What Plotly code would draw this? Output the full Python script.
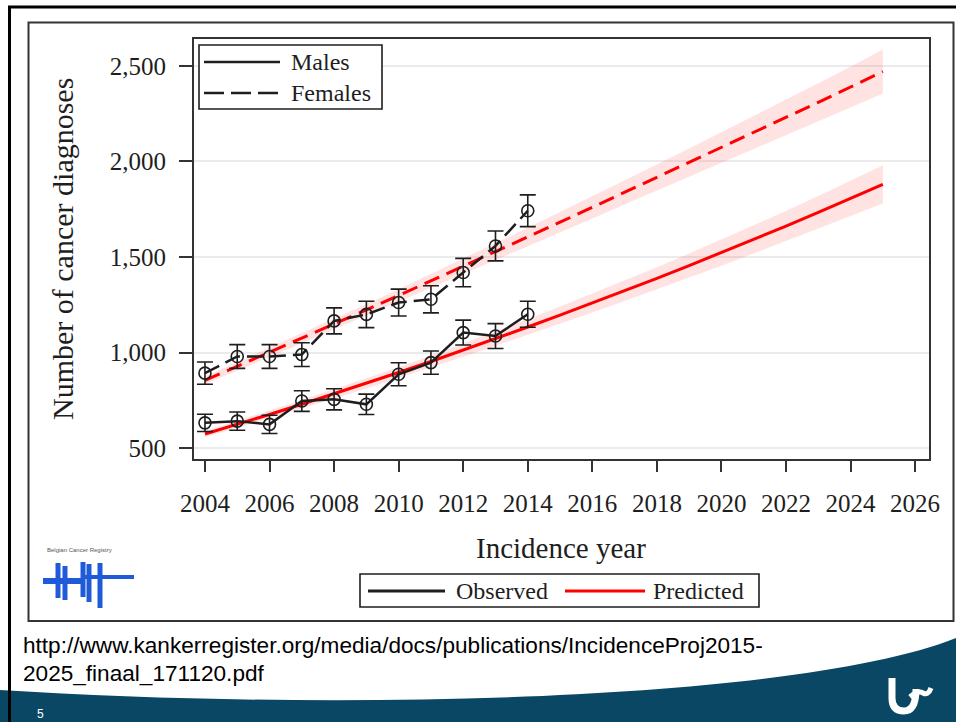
import plotly.graph_objects as go

# ---- data -------------------------------------------------------------
obs_years = list(range(2004, 2015))
males_obs = [633, 642, 625, 747, 756, 730, 887, 948, 1105, 1087, 1201]
males_err = [45, 48, 48, 54, 55, 53, 60, 61, 65, 65, 68]
females_obs = [893, 980, 980, 990, 1166, 1200, 1262, 1279, 1419, 1558, 1742]
females_err = [58, 62, 62, 62, 68, 69, 70, 71, 74, 78, 83]

pred_years = list(range(2004, 2026))
males_pred = [575, 625, 677, 730, 784, 839, 896, 954, 1013, 1073, 1134,
              1196, 1259, 1323, 1388, 1455, 1523, 1592, 1662, 1734, 1806, 1880]
males_hw = [16, 18, 20, 22, 24, 26, 28, 31, 34, 37, 41,
            45, 49, 53, 58, 63, 68, 73, 79, 85, 92, 100]
females_pred = [855, 928, 1001, 1075, 1149, 1224, 1299, 1375, 1451, 1528, 1605,
                1682, 1760, 1838, 1916, 1994, 2072, 2151, 2230, 2309, 2389, 2470]
females_hw = [20, 22, 24, 26, 28, 30, 33, 36, 40, 44, 48,
              53, 58, 63, 68, 74, 80, 86, 92, 99, 106, 115]

x_ticks = list(range(2004, 2027, 2))
y_ticks = [500, 1000, 1500, 2000, 2500]

W, H = 956, 722
SERIF = "Liberation Serif, Times New Roman, serif"
INK = "#1e1e1e"
RED = "#ff0000"
TEAL = "#0a4764"


def px(x):
    return x / W


def py(y):
    return 1 - y / H


def path(segments, close=False):
    """Build an SVG path in paper units; every segment carries its own command."""
    s = ""
    for cmd, pts in segments:
        s += cmd + " " + " ".join(f"{px(a):.5f},{py(b):.5f}" for a, b in pts) + " "
    return s + ("Z" if close else "")


fig = go.Figure()

# prediction intervals
for pred, hw in ((females_pred, females_hw), (males_pred, males_hw)):
    upper = [p + h for p, h in zip(pred, hw)]
    lower = [p - h for p, h in zip(pred, hw)]
    fig.add_trace(go.Scatter(
        x=pred_years + pred_years[::-1], y=upper + lower[::-1],
        fill="toself", fillcolor="rgba(255,60,60,0.15)",
        line=dict(width=0), mode="lines", hoverinfo="skip", showlegend=False))

# predicted lines
fig.add_trace(go.Scatter(x=pred_years, y=females_pred, mode="lines",
                         line=dict(color=RED, width=3, dash="16px,8px"),
                         showlegend=False))
fig.add_trace(go.Scatter(x=pred_years, y=males_pred, mode="lines",
                         line=dict(color=RED, width=3), showlegend=False))

# observed series with error bars
for vals, err, dash in ((females_obs, females_err, "16px,7px"),
                        (males_obs, males_err, "solid")):
    fig.add_trace(go.Scatter(
        x=obs_years, y=vals, mode="lines+markers",
        line=dict(color=INK, width=2.5, dash=dash),
        marker=dict(symbol="circle-open", size=12, color=INK,
                    line=dict(width=1.6, color=INK)),
        error_y=dict(type="data", array=err, color=INK, thickness=1.6, width=8),
        showlegend=False))

shapes = []
annotations = []

# slide footer band
shapes.append(dict(type="path", xref="paper", yref="paper", layer="below",
                   path=path([("M", [(0, 690)]),
                              ("C", [(350, 712), (800, 700), (956, 638)]),
                              ("L", [(956, 722)]), ("L", [(0, 722)])], close=True),
                   fillcolor=TEAL, line=dict(width=0)))

# slide frame and embedded figure frame
shapes.append(dict(type="line", xref="paper", yref="paper",
                   x0=px(9.5), x1=px(9.5), y0=py(6), y1=py(722),
                   line=dict(color="black", width=3)))
shapes.append(dict(type="line", xref="paper", yref="paper",
                   x0=px(8), x1=px(956), y0=py(7), y1=py(7),
                   line=dict(color="black", width=3)))
shapes.append(dict(type="rect", xref="paper", yref="paper",
                   x0=px(28.5), x1=px(953.5), y0=py(22.5), y1=py(621),
                   line=dict(color="#333333", width=2)))

# series legend (top left)
shapes.append(dict(type="rect", xref="paper", yref="paper",
                   x0=px(199), x1=px(382), y0=py(45), y1=py(109),
                   line=dict(color=INK, width=1.6), fillcolor="white"))
shapes.append(dict(type="line", xref="paper", yref="paper",
                   x0=px(204), x1=px(280), y0=py(62), y1=py(62),
                   line=dict(color=INK, width=2.5)))
shapes.append(dict(type="line", xref="paper", yref="paper",
                   x0=px(204), x1=px(280), y0=py(93), y1=py(93),
                   line=dict(color=INK, width=2.5, dash="20px,7px")))
for label, yy in (("Males", 62), ("Females", 93)):
    annotations.append(dict(text=label, xref="paper", yref="paper",
                            x=px(289), y=py(yy), xanchor="left", yanchor="middle",
                            showarrow=False, font=dict(family=SERIF, size=24, color=INK)))

# type legend (bottom)
shapes.append(dict(type="rect", xref="paper", yref="paper",
                   x0=px(360), x1=px(759), y0=py(574), y1=py(607),
                   line=dict(color=INK, width=1.6), fillcolor="white"))
shapes.append(dict(type="line", xref="paper", yref="paper",
                   x0=px(368), x1=px(445), y0=py(591), y1=py(591),
                   line=dict(color=INK, width=3)))
shapes.append(dict(type="line", xref="paper", yref="paper",
                   x0=px(565), x1=px(645), y0=py(591), y1=py(591),
                   line=dict(color=RED, width=3)))
for label, xx in (("Observed", 454), ("Predicted", 651)):
    annotations.append(dict(text=label, xref="paper", yref="paper",
                            x=px(xx), y=py(591), xanchor="left", yanchor="middle",
                            showarrow=False, font=dict(family=SERIF, size=24, color=INK)))

# axis titles
annotations.append(dict(text="Number of cancer diagnoses", xref="paper", yref="paper",
                        x=px(63), y=py(249), textangle=-90, xanchor="center",
                        yanchor="middle", showarrow=False,
                        font=dict(family=SERIF, size=30, color=INK)))
annotations.append(dict(text="Incidence year", xref="paper", yref="paper",
                        x=px(561), y=py(548), xanchor="center", yanchor="middle",
                        showarrow=False, font=dict(family=SERIF, size=29, color=INK)))

# registry logo (bottom left of the figure)
BLUE = "#1f5ad8"
annotations.append(dict(text="Belgian Cancer Registry", xref="paper", yref="paper",
                        x=px(45), y=py(550), xanchor="left", yanchor="middle",
                        showarrow=False, font=dict(family="Liberation Sans", size=6,
                                                   color="#555555")))
shapes.append(dict(type="line", xref="paper", yref="paper",
                   x0=px(43), x1=px(82), y0=py(581), y1=py(581),
                   line=dict(color=BLUE, width=6)))
shapes.append(dict(type="line", xref="paper", yref="paper",
                   x0=px(82), x1=px(134), y0=py(577), y1=py(577),
                   line=dict(color=BLUE, width=4)))
for xx, y0, y1 in ((58, 563, 598), (65, 566, 600), (83, 562, 597),
                   (89, 564, 602), (100, 563, 608)):
    shapes.append(dict(type="line", xref="paper", yref="paper",
                       x0=px(xx), x1=px(xx), y0=py(y0), y1=py(y1),
                       line=dict(color=BLUE, width=5)))

# emblem on the footer band
shapes.append(dict(type="path", xref="paper", yref="paper",
                   path=path([("M", [(892, 678)]), ("L", [(892, 698)]),
                              ("Q", [(892, 711), (904, 711)]),
                              ("Q", [(916, 711), (916, 689)])]),
                   line=dict(color="white", width=7)))
shapes.append(dict(type="path", xref="paper", yref="paper",
                   path=path([("M", [(910, 697)]),
                              ("Q", [(918, 690), (923, 693)]),
                              ("Q", [(928, 696), (931, 688)])]),
                   line=dict(color="white", width=5)))

URL_FONT = dict(family="Liberation Sans Narrow, Liberation Sans, sans-serif",
                size=22.6, color="black")
annotations.append(dict(text="http://www.kankerregister.org/media/docs/publications/IncidenceProj2015-",
                        xref="paper", yref="paper", x=px(21), y=py(645),
                        xanchor="left", yanchor="middle", showarrow=False, font=URL_FONT))
annotations.append(dict(text="2025_finaal_171120.pdf",
                        xref="paper", yref="paper", x=px(21), y=py(673),
                        xanchor="left", yanchor="middle", showarrow=False, font=URL_FONT))
annotations.append(dict(text="5", xref="paper", yref="paper", x=px(40), y=py(714),
                        xanchor="center", yanchor="middle", showarrow=False,
                        font=dict(family="Liberation Sans", size=12, color="white")))

axis_common = dict(showline=True, linecolor="#333333", linewidth=2, mirror=True,
                   ticks="outside", tickcolor="#333333", tickwidth=2, automargin=False,
                   tickfont=dict(family=SERIF, size=25, color=INK), zeroline=False)

fig.update_layout(
    width=W, height=H,
    margin=dict(l=0, r=0, t=0, b=0, pad=0, autoexpand=False),
    paper_bgcolor="white", plot_bgcolor="white",
    xaxis=dict(domain=[px(194), px(929)], range=[2003.66, 2026.43],
               tickvals=x_ticks, ticklen=11, ticklabelstandoff=10,
               showgrid=False, **axis_common),
    yaxis=dict(domain=[py(459), py(39)], range=[444, 2640],
               tickvals=y_ticks, tickformat=",d", ticklen=13, ticklabelstandoff=8,
               showgrid=True, gridcolor="#ebebeb", gridwidth=1.5, **axis_common),
    shapes=shapes, annotations=annotations,
    showlegend=False,
)

fig.write_html("out.html")
